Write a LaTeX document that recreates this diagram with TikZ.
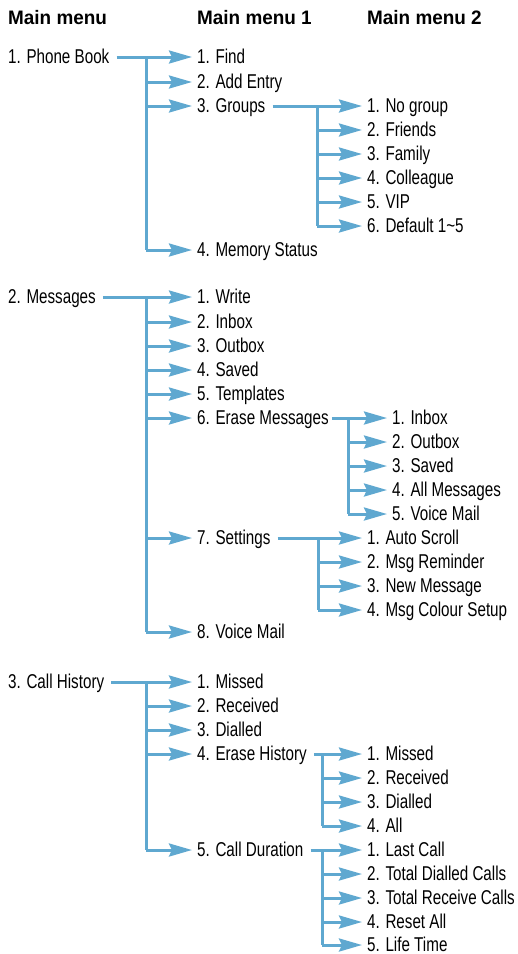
\documentclass[tikz,border=0pt]{standalone}
\usepackage{fontspec}
\setmainfont{Liberation Sans}[FakeStretch=0.76]
\newfontfamily\hdrfont{Liberation Sans}[FakeStretch=0.97]
\usetikzlibrary{arrows.meta}
\definecolor{lnblue}{HTML}{5FA8D0}
\tikzset{
  itm/.style={anchor=west,inner xsep=0pt,inner ysep=0pt,text height=15pt,text depth=3pt,font=\fontsize{20}{22}\selectfont},
  hdr/.style={anchor=west,inner sep=0pt,font=\hdrfont\bfseries\fontsize{19.5}{22}\selectfont},
  ln/.style={draw=lnblue,line width=3pt},
  arr/.style={draw=lnblue,line width=3pt,-{Stealth[length=23pt,width=13pt,inset=3pt]},shorten >=5pt},
  frm/.style={shorten <=7pt}
}
\begin{document}
\begin{tikzpicture}[x=1pt,y=-1pt]
\useasboundingbox (0,0) rectangle (518,954);
% headers
\node[hdr] (h0) at (8,18) {Main menu};
\node[hdr] (h1) at (197,18) {Main menu 1};
\node[hdr] (h2) at (367,18) {Main menu 2};
% ---------- section 1
\node[itm] (pb) at (8,57) {1. Phone Book};
\node[itm] (find) at (197,57) {1. Find};
\node[itm] (add) at (197,82) {2. Add Entry};
\node[itm] (grp) at (197,106) {3. Groups};
\node[itm] (mem) at (197,250) {4. Memory Status};
\node[itm] (g1) at (367,106) {1. No group};
\node[itm] (g2) at (367,130) {2. Friends};
\node[itm] (g3) at (367,154) {3. Family};
\node[itm] (g4) at (367,178) {4. Colleague};
\node[itm] (g5) at (367,202) {5. VIP};
\node[itm] (g6) at (367,226) {6. Default 1\textasciitilde5};
\coordinate (tA) at (146,57);
\draw[ln] (tA) -- (tA |- mem.west);
\draw[arr,frm] (pb.east) -- (find.west);
\foreach \c in {add,grp,mem} \draw[arr] (tA |- \c.west) -- (\c.west);
\coordinate (tG) at (317,106);
\draw[ln] (tG) -- (tG |- g6.west);
\draw[arr,frm] (grp.east) -- (g1.west);
\foreach \c in {g2,g3,g4,g5,g6} \draw[arr] (tG |- \c.west) -- (\c.west);
% ---------- section 2
\node[itm] (msg) at (8,297) {2. Messages};
\node[itm] (wr) at (197,297) {1. Write};
\node[itm] (inb) at (197,322) {2. Inbox};
\node[itm] (outb) at (197,346) {3. Outbox};
\node[itm] (sav) at (197,370) {4. Saved};
\node[itm] (tmp) at (197,394) {5. Templates};
\node[itm] (era) at (197,418) {6. Erase Messages};
\node[itm] (set) at (197,538) {7. Settings};
\node[itm] (vm) at (197,632) {8. Voice Mail};
\node[itm] (e1) at (392,418) {1. Inbox};
\node[itm] (e2) at (392,442) {2. Outbox};
\node[itm] (e3) at (392,466) {3. Saved};
\node[itm] (e4) at (392,490) {4. All Messages};
\node[itm] (e5) at (392,514) {5. Voice Mail};
\node[itm] (s1) at (367,538) {1. Auto Scroll};
\node[itm] (s2) at (367,562) {2. Msg Reminder};
\node[itm] (s3) at (367,586) {3. New Message};
\node[itm] (s4) at (367,610) {4. Msg Colour Setup};
\coordinate (tM) at (146,297);
\draw[ln] (tM) -- (tM |- vm.west);
\draw[arr,frm] (msg.east) -- (wr.west);
\foreach \c in {inb,outb,sav,tmp,era,set,vm} \draw[arr] (tM |- \c.west) -- (\c.west);
\coordinate (tE) at (348,418);
\draw[ln] (tE) -- (tE |- e5.west);
\draw[arr,shorten <=3pt] (era.east) -- (e1.west);
\foreach \c in {e2,e3,e4,e5} \draw[arr] (tE |- \c.west) -- (\c.west);
\coordinate (tS) at (318,538);
\draw[ln] (tS) -- (tS |- s4.west);
\draw[arr,frm] (set.east) -- (s1.west);
\foreach \c in {s2,s3,s4} \draw[arr] (tS |- \c.west) -- (\c.west);
% ---------- section 3
\node[itm] (ch) at (8,682) {3. Call History};
\node[itm] (c1) at (197,682) {1. Missed};
\node[itm] (c2) at (197,706) {2. Received};
\node[itm] (c3) at (197,730) {3. Dialled};
\node[itm] (c4) at (197,754) {4. Erase History};
\node[itm] (c5) at (197,850) {5. Call Duration};
\node[itm] (h1a) at (367,754) {1. Missed};
\node[itm] (h2a) at (367,778) {2. Received};
\node[itm] (h3a) at (367,802) {3. Dialled};
\node[itm] (h4a) at (367,826) {4. All};
\node[itm] (d1) at (367,850) {1. Last Call};
\node[itm] (d2) at (367,874) {2. Total Dialled Calls};
\node[itm] (d3) at (367,898) {3. Total Receive Calls};
\node[itm] (d4) at (367,922) {4. Reset All};
\node[itm] (d5) at (367,945) {5. Life Time};
\coordinate (tC) at (146,682);
\draw[ln] (tC) -- (tC |- c5.west);
\draw[arr,frm] (ch.east) -- (c1.west);
\foreach \c in {c2,c3,c4,c5} \draw[arr] (tC |- \c.west) -- (\c.west);
\coordinate (tH) at (322,754);
\draw[ln] (tH) -- (tH |- h4a.west);
\draw[arr,frm] (c4.east) -- (h1a.west);
\foreach \c in {h2a,h3a,h4a} \draw[arr] (tH |- \c.west) -- (\c.west);
\coordinate (tD) at (322,850);
\draw[ln] (tD) -- (tD |- d5.west);
\draw[arr,frm] (c5.east) -- (d1.west);
\foreach \c in {d2,d3,d4,d5} \draw[arr] (tD |- \c.west) -- (\c.west);
\end{tikzpicture}
\end{document}
